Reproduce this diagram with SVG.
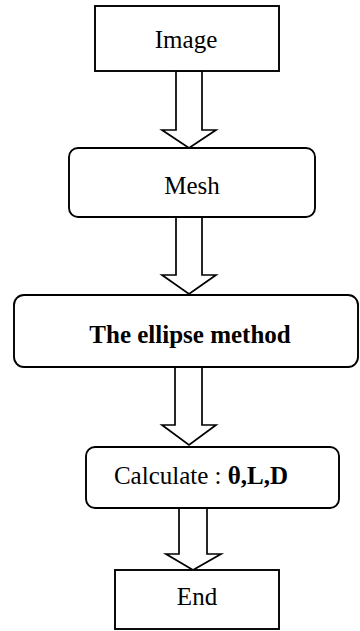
<svg xmlns="http://www.w3.org/2000/svg" width="360" height="631" viewBox="0 0 360 631">
  <style>
    .box { fill: #fff; stroke: #000; stroke-width: 1.9; }
    .arrow { fill: #fff; stroke: #000; stroke-width: 1.7; stroke-linejoin: miter; }
    .label { font-family: "Liberation Serif", "Times New Roman", serif; font-size: 25px; fill: #000; text-anchor: middle; }
    .bold { font-weight: bold; }
  </style>
  <rect width="360" height="631" fill="#fff"/>

  <!-- block arrows between steps -->
  <g id="connectors">
    <polygon class="arrow" points="176,71 202,71 202,130 216,130 189,148 162,130 176,130"/>
    <polygon class="arrow" points="176,217 202,217 202,275 216,275 189,294 162,275 176,275"/>
    <polygon class="arrow" points="175,367 202,367 202,425 216,425 189,445 162,425 175,425"/>
    <polygon class="arrow" points="179,508 207,508 207,554 221,554 193,570 166,554 179,554"/>
  </g>

  <g id="image">
    <rect class="box" x="95" y="6" width="184" height="65"/>
    <text class="label" x="186" y="48">Image</text>
  </g>

  <g id="mesh">
    <rect class="box" x="69" y="148" width="246" height="69" rx="9"/>
    <text class="label" x="192" y="194">Mesh</text>
  </g>

  <g id="ellipse-method">
    <rect class="box" x="14" y="295" width="344" height="72" rx="10"/>
    <text class="label bold" x="190" y="343" font-size="26.5">The ellipse method</text>
  </g>

  <g id="calculate">
    <rect class="box" x="86" y="447" width="253" height="61" rx="9"/>
    <text class="label" x="201" y="484" font-size="26">Calculate : <tspan class="bold">θ,L,D</tspan></text>
  </g>

  <g id="end">
    <rect class="box" x="115" y="570" width="164" height="59"/>
    <text class="label" x="197" y="605">End</text>
  </g>
</svg>
